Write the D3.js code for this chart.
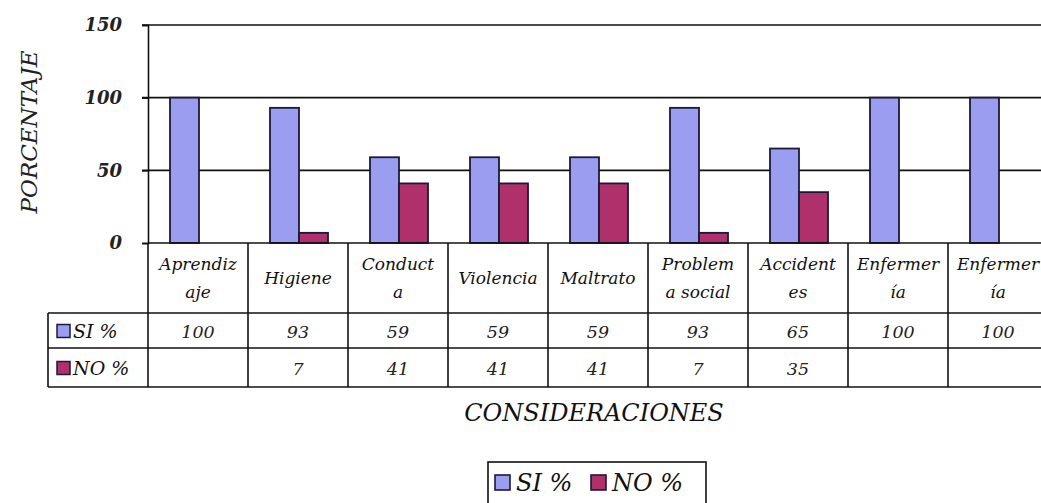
<!DOCTYPE html>
<html>
<head>
    <meta charset="utf-8">
    <script src="https://cdn.jsdelivr.net/npm/d3@7"></script>
    <style>
        body { margin: 0; background: #fff; }
        text { font-family: "DejaVu Serif", "Liberation Serif", serif; font-style: italic; }
    </style>
</head>
<body>
    <svg class="MainSvg"></svg>
<script>
    // categories (header lines as shown in the table)
    var categories = ["Aprendizaje", "Higiene", "Conducta", "Violencia", "Maltrato",
        "Problema social", "Accidentes", "Enfermería 1", "Enfermería 2"];
    var headerLines = [["Aprendiz", "aje"], ["Higiene"], ["Conduct", "a"], ["Violencia"], ["Maltrato"],
        ["Problem", "a social"], ["Accident", "es"], ["Enfermer", "ía"], ["Enfermer", "ía"]];
    var siValues = [100, 93, 59, 59, 59, 93, 65, 100, 100];
    var noValues = [null, 7, 41, 41, 41, 7, 35, null, null];
    var seriesNames = ["SI %", "NO %"];
    var seriesColors = ["#9b9df0", "#b0306c"];
    var yTicks = [0, 50, 100, 150];

    var width = 1041, height = 503;
    var plotLeft = 148, plotTop = 25, plotBottom = 243;
    var colW = 100;

    var svg = d3.select(".MainSvg")
        .attr("width", width)
        .attr("height", height);

    var x = d3.scaleBand()
        .domain(d3.range(categories.length))
        .range([plotLeft, plotLeft + colW * categories.length]);
    var x1 = d3.scaleBand()
        .domain([0, 1])
        .range([22, 80]);
    var y = d3.scaleLinear()
        .domain([0, 150])
        .range([plotBottom, plotTop]);

    // gridlines
    svg.append("g").selectAll("line")
        .data(yTicks.filter(function (d) { return d > 0; }))
        .enter().append("line")
        .attr("x1", plotLeft - 6).attr("x2", width)
        .attr("y1", function (d) { return y(d); })
        .attr("y2", function (d) { return y(d); })
        .attr("stroke", "#111").attr("stroke-width", 1.6);

    // y axis
    var yAxis = d3.axisLeft(y).tickValues(yTicks).tickSize(6).tickPadding(20);
    var yg = svg.append("g")
        .attr("transform", "translate(" + plotLeft + ",0)")
        .call(yAxis);
    yg.select(".domain").attr("stroke", "#111").attr("stroke-width", 1.6);
    yg.selectAll(".tick line").attr("stroke", "#111").attr("stroke-width", 1.6);
    yg.selectAll(".tick text")
        .attr("font-size", 18).attr("font-weight", "bold")
        .attr("font-family", "DejaVu Serif").attr("fill", "#222");

    svg.append("text")
        .attr("transform", "translate(37,132) rotate(-90)")
        .attr("text-anchor", "middle")
        .attr("font-size", 23)
        .attr("fill", "#222")
        .text("PORCENTAJE");

    // bars
    var series = [siValues, noValues];
    series.forEach(function (vals, s) {
        svg.append("g").selectAll("rect")
            .data(vals.map(function (v, i) { return { i: i, v: v }; }).filter(function (d) { return d.v != null; }))
            .enter().append("rect")
            .attr("x", function (d) { return x(d.i) + x1(s); })
            .attr("width", x1.bandwidth())
            .attr("y", function (d) { return y(d.v); })
            .attr("height", function (d) { return plotBottom - y(d.v); })
            .attr("fill", seriesColors[s])
            .attr("stroke", "#1a1a3a")
            .attr("stroke-width", 1.8);
    });

    // data table
    var rowTops = [243, 313, 348, 387];
    var tableRight = plotLeft + colW * categories.length;
    var tg = svg.append("g");
    var lineAttr = function (sel) { sel.attr("stroke", "#111").attr("stroke-width", 1.6); };

    rowTops.forEach(function (ry, k) {
        tg.append("line")
            .attr("x1", k === 0 ? plotLeft : 48).attr("x2", tableRight)
            .attr("y1", ry).attr("y2", ry).call(lineAttr);
    });
    tg.append("line").attr("x1", 48).attr("x2", 48).attr("y1", rowTops[1]).attr("y2", rowTops[3]).call(lineAttr);
    d3.range(categories.length + 1).forEach(function (i) {
        var xx = plotLeft + i * colW;
        tg.append("line").attr("x1", xx).attr("x2", xx).attr("y1", rowTops[0]).attr("y2", rowTops[3]).call(lineAttr);
    });

    // header labels
    categories.forEach(function (c, i) {
        var lines = headerLines[i];
        var cx = x(i) + x.bandwidth() / 2;
        lines.forEach(function (ln, j) {
            tg.append("text")
                .attr("x", cx)
                .attr("y", 284 + (j - (lines.length - 1) / 2) * 28)
                .attr("text-anchor", "middle")
                .attr("font-size", 17)
                .attr("fill", "#111")
                .text(ln);
        });
    });

    // value rows
    series.forEach(function (vals, s) {
        var mid = (rowTops[s + 1] + rowTops[s + 2]) / 2 + 7;
        vals.forEach(function (v, i) {
            if (v == null) return;
            tg.append("text")
                .attr("x", x(i) + x.bandwidth() / 2)
                .attr("y", mid)
                .attr("text-anchor", "middle")
                .attr("font-size", 17.5)
                .attr("fill", "#222")
                .text(v);
        });
        tg.append("rect")
            .attr("x", 57).attr("y", mid - 13)
            .attr("width", 13).attr("height", 13)
            .attr("fill", seriesColors[s]).attr("stroke", "#1a1a3a").attr("stroke-width", 1.5);
        tg.append("text")
            .attr("x", 73).attr("y", mid)
            .attr("font-size", 19).attr("fill", "#111")
            .text(seriesNames[s]);
    });

    // x title
    svg.append("text")
        .attr("x", 594).attr("y", 421)
        .attr("text-anchor", "middle")
        .attr("font-size", 24)
        .attr("fill", "#111")
        .text("CONSIDERACIONES");

    // legend
    var lg = svg.append("g").attr("transform", "translate(488,462)");
    lg.append("rect").attr("x", 0).attr("y", 0).attr("width", 218).attr("height", 60)
        .attr("fill", "none").attr("stroke", "#111").attr("stroke-width", 1.6);
    seriesNames.forEach(function (n, s) {
        var ox = 7 + s * 96;
        lg.append("rect").attr("x", ox).attr("y", 13)
            .attr("width", 15).attr("height", 15)
            .attr("fill", seriesColors[s]).attr("stroke", "#1a1a3a").attr("stroke-width", 1.6);
        lg.append("text").attr("x", ox + 21).attr("y", 29)
            .attr("font-size", 24).attr("fill", "#111")
            .text(n);
    });
</script>
</body>
</html>
